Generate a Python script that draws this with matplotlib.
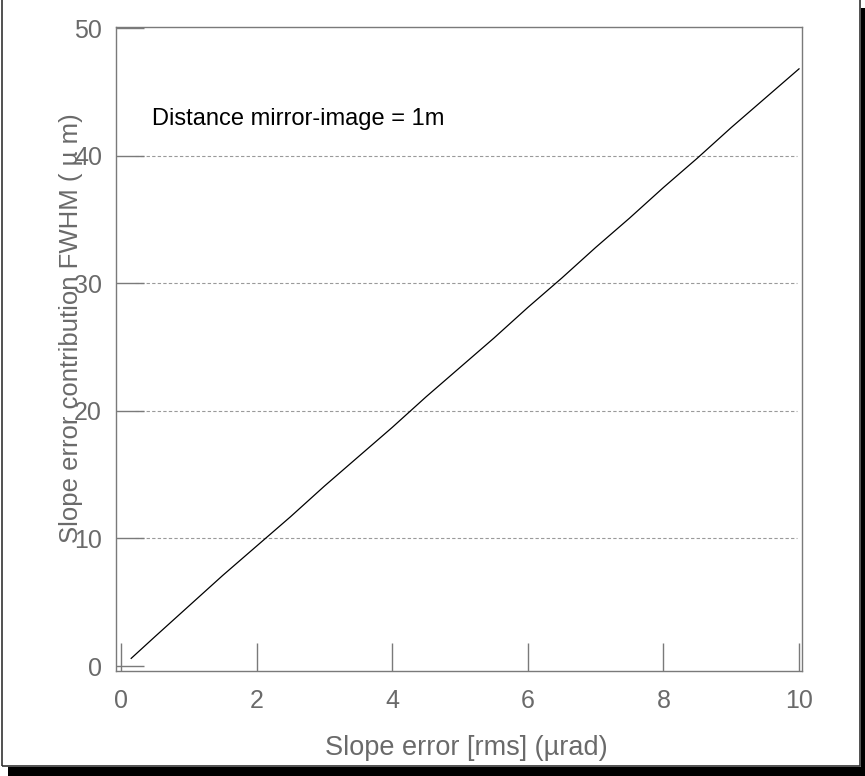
import matplotlib
matplotlib.use("Agg")
import matplotlib.pyplot as plt
from matplotlib.patches import Rectangle

plt.rcParams['font.family'] = ['Liberation Sans', 'DejaVu Sans']

# Data
slope_error = [0.15, 0.5, 1.0, 1.5, 2.0, 2.5, 3.0, 3.5, 4.0, 4.5, 5.0,
               5.5, 6.0, 6.5, 7.0, 7.5, 8.0, 8.5, 9.0, 9.5, 10.0]
fwhm = [0.6, 2.3, 4.7, 7.1, 9.4, 11.7, 14.1, 16.4, 18.7, 21.1, 23.4,
        25.7, 28.1, 30.4, 32.8, 35.1, 37.5, 39.8, 42.2, 44.5, 46.8]
xticks = [0, 2, 4, 6, 8, 10]
yticks = [0, 10, 20, 30, 40, 50]
grid_levels = [10, 20, 30, 40]

W, H = 865, 776
fig = plt.figure(figsize=(W / 100, H / 100), dpi=100)

def px(x, y, w, h):
    return [x / W, 1 - (y + h) / H, w / W, h / H]

# Frame with drop shadow
fig.patches.append(Rectangle((8 / W, 0), (W - 8) / W, 9 / H, transform=fig.transFigure,
                             facecolor='black', edgecolor='none', zorder=0))
fig.patches.append(Rectangle(((W - 4) / W, 0), 4 / W, (H - 8) / H, transform=fig.transFigure,
                             facecolor='black', edgecolor='none', zorder=0))
fig.patches.append(Rectangle((1.5 / W, 1 - 765.5 / H), 858 / W, 770 / H, transform=fig.transFigure,
                             facecolor='none', edgecolor='#333333', linewidth=1.2, zorder=1))

ax = fig.add_axes(px(116, 27, 686, 644))
ax.set_xlim(-0.074, 10.044)
ax.set_ylim(-0.39, 50.08)

gray = '#7a7a7a'
for lv in grid_levels:
    ax.plot([0.2, 9.97], [lv, lv], color='#9a9a9a', linestyle=(0, (3, 2)),
            linewidth=0.8, zorder=1)

ax.plot(slope_error, fwhm, color='black', linewidth=0.9, zorder=3)

for s in ax.spines.values():
    s.set_color(gray)
    s.set_linewidth(1.0)

ax.set_xticks(xticks)
ax.set_yticks(yticks)
ax.tick_params(axis='both', direction='in', length=20, width=1.0, color=gray,
               labelcolor='#6a6a6a', labelsize=18)
ax.tick_params(axis='x', pad=13)
ax.tick_params(axis='y', pad=10)

ax.text(0.45, 42.9, 'Distance mirror-image = 1m', fontsize=17, color='black',
        va='center', ha='left')

fig.text(71 / W, 1 - 328 / H, 'Slope error contribution FWHM ( \u00b5 m)', rotation=90,
         ha='center', va='center', fontsize=18.5, color='#6a6a6a')
fig.text(466 / W, 1 - 748 / H, 'Slope error [rms] (\u00b5rad)', ha='center', va='center',
         fontsize=19.5, color='#6a6a6a')

fig.savefig('out.png', dpi=100)
